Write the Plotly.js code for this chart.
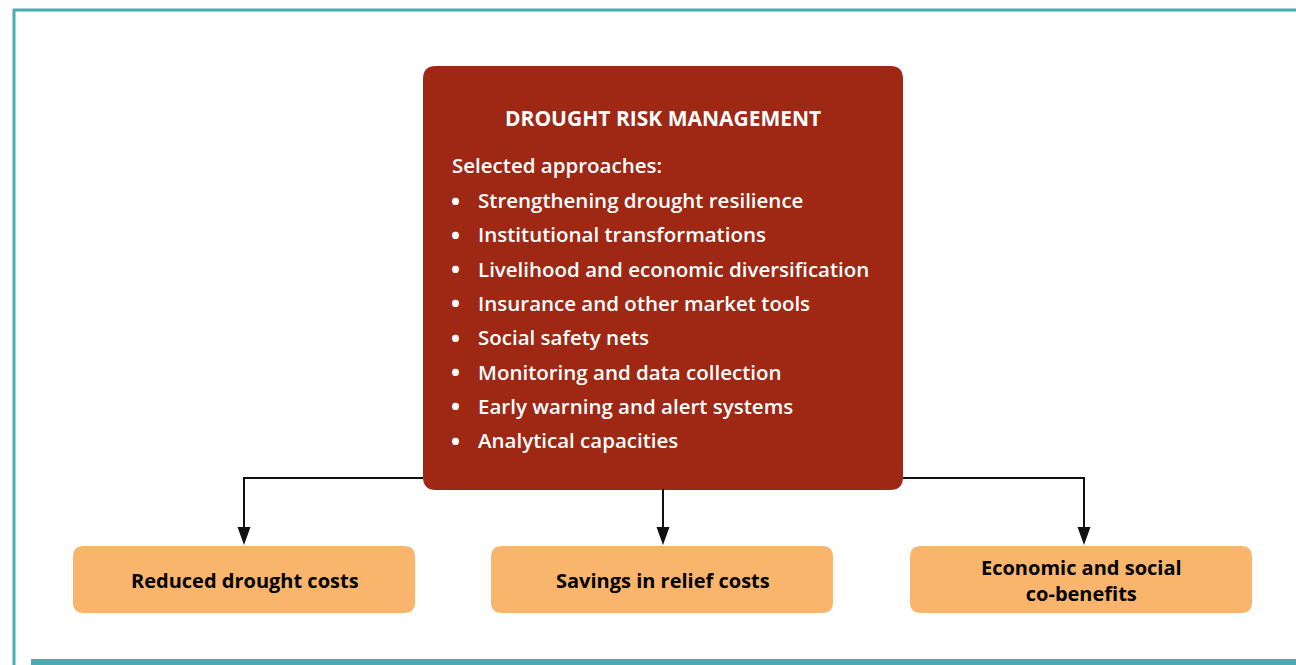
<!DOCTYPE html>
<html>
<head>
<meta charset="utf-8">
<script src="https://cdn.plot.ly/plotly-3.0.1.min.js"></script>
<style>html,body{margin:0;padding:0;background:#fff;}#chart{width:1296px;height:665px;}</style>
</head>
<body>
<div id="chart"></div>
<script>
// ---- Content ----
var mainTitle = "DROUGHT RISK MANAGEMENT";
var subTitle = "Selected approaches:";
var approaches = [
  "Strengthening drought resilience",
  "Institutional transformations",
  "Livelihood and economic diversification",
  "Insurance and other market tools",
  "Social safety nets",
  "Monitoring and data collection",
  "Early warning and alert systems",
  "Analytical capacities"
];
var outcomes = [
  "Reduced drought costs",
  "Savings in relief costs",
  "Economic and social<br>co-benefits"
];

// ---- Layout geometry (pixel space) ----
var W = 1296, H = 665;
var teal = "#4aabb0", red = "#9e2814", orange = "#f9b56b";
var FONT = "Open Sans, Lato, sans-serif";

function roundRect(x0, y0, x1, y1, r) {
  return "M" + (x0 + r) + "," + y0 +
    " L" + (x1 - r) + "," + y0 +
    " Q" + x1 + "," + y0 + " " + x1 + "," + (y0 + r) +
    " L" + x1 + "," + (y1 - r) +
    " Q" + x1 + "," + y1 + " " + (x1 - r) + "," + y1 +
    " L" + (x0 + r) + "," + y1 +
    " Q" + x0 + "," + y1 + " " + x0 + "," + (y1 - r) +
    " L" + x0 + "," + (y0 + r) +
    " Q" + x0 + "," + y0 + " " + (x0 + r) + "," + y0 + " Z";
}

var shapes = [];
var annotations = [];

// Frame
shapes.push({type: "line", x0: 14, x1: 14, y0: 9, y1: H, line: {color: teal, width: 3}});
shapes.push({type: "line", x0: 13, x1: W, y0: 10, y1: 10, line: {color: teal, width: 3}});
shapes.push({type: "rect", x0: 31, x1: W, y0: 659, y1: H + 2, fillcolor: teal, line: {width: 0}});

// Main box
var mb = {x0: 423, x1: 903, y0: 66, y1: 490};
shapes.push({type: "path", path: roundRect(mb.x0, mb.y0, mb.x1, mb.y1, 13), fillcolor: red, line: {width: 0}});

// Outcome boxes
var boxX0 = [73, 491, 910], boxW = 343, boxY0 = 546, boxY1 = 613;
var connY = 478, arrowTop = 527;
var black = "#111";
// connectors
shapes.push({type: "line", x0: 244, x1: mb.x0, y0: connY, y1: connY, line: {color: black, width: 2}});
shapes.push({type: "line", x0: mb.x1, x1: 1084, y0: connY, y1: connY, line: {color: black, width: 2}});
var arrowX = [244, 663, 1084];
var arrowStart = [connY, mb.y1, connY];
for (var i = 0; i < 3; i++) {
  var ax = arrowX[i];
  shapes.push({type: "line", x0: ax, x1: ax, y0: arrowStart[i] - 1, y1: arrowTop + 2, line: {color: black, width: 2}});
  shapes.push({type: "path", path: "M" + (ax - 6.5) + "," + arrowTop + " L" + (ax + 6.5) + "," + arrowTop + " L" + ax + "," + (boxY0 - 1) + " Z",
    fillcolor: black, line: {width: 0}});
  var bx0 = boxX0[i];
  shapes.push({type: "path", path: roundRect(bx0, boxY0, bx0 + boxW - 1, boxY1, 11), fillcolor: orange, line: {width: 0}});
  annotations.push({x: bx0 + boxW / 2, y: (boxY0 + boxY1) / 2 + 1, xref: "x", yref: "y", text: "<b>" + outcomes[i] + "</b>",
    showarrow: false, xanchor: "center", yanchor: "middle", align: "center",
    font: {family: FONT, size: 20, color: "#000"}});
}

// Main box text
annotations.push({x: 663, y: 118, xref: "x", yref: "y", text: "<b>" + mainTitle + "</b>", showarrow: false,
  xanchor: "center", yanchor: "middle", font: {family: FONT, size: 21, color: "#fff"}});
annotations.push({x: 450, y: 165, xref: "x", yref: "y", text: subTitle, showarrow: false,
  xanchor: "left", yanchor: "middle", font: {family: FONT, size: 20.5, color: "#fff", weight: 600}});
var lineY0 = 200, lineStep = 34.3;
approaches.forEach(function (t, k) {
  var y = lineY0 + k * lineStep;
  annotations.push({x: 449, y: y, xref: "x", yref: "y", text: "<b>•</b>", showarrow: false,
    xanchor: "left", yanchor: "middle", font: {family: FONT, size: 24, color: "#fff"}});
  annotations.push({x: 476, y: y, xref: "x", yref: "y", text: t, showarrow: false,
    xanchor: "left", yanchor: "middle", font: {family: FONT, size: 20.5, color: "#fff", weight: 600}});
});

var layout = {
  width: W, height: H,
  margin: {l: 0, r: 0, t: 0, b: 0, pad: 0},
  paper_bgcolor: "#fff", plot_bgcolor: "#fff",
  xaxis: {range: [0, W], visible: false, fixedrange: true},
  yaxis: {range: [H, 0], visible: false, fixedrange: true},
  showlegend: false,
  shapes: shapes,
  annotations: annotations
};

Plotly.newPlot("chart", [{x: [], y: [], type: "scatter"}], layout, {displayModeBar: false, staticPlot: true});
</script>
</body>
</html>
